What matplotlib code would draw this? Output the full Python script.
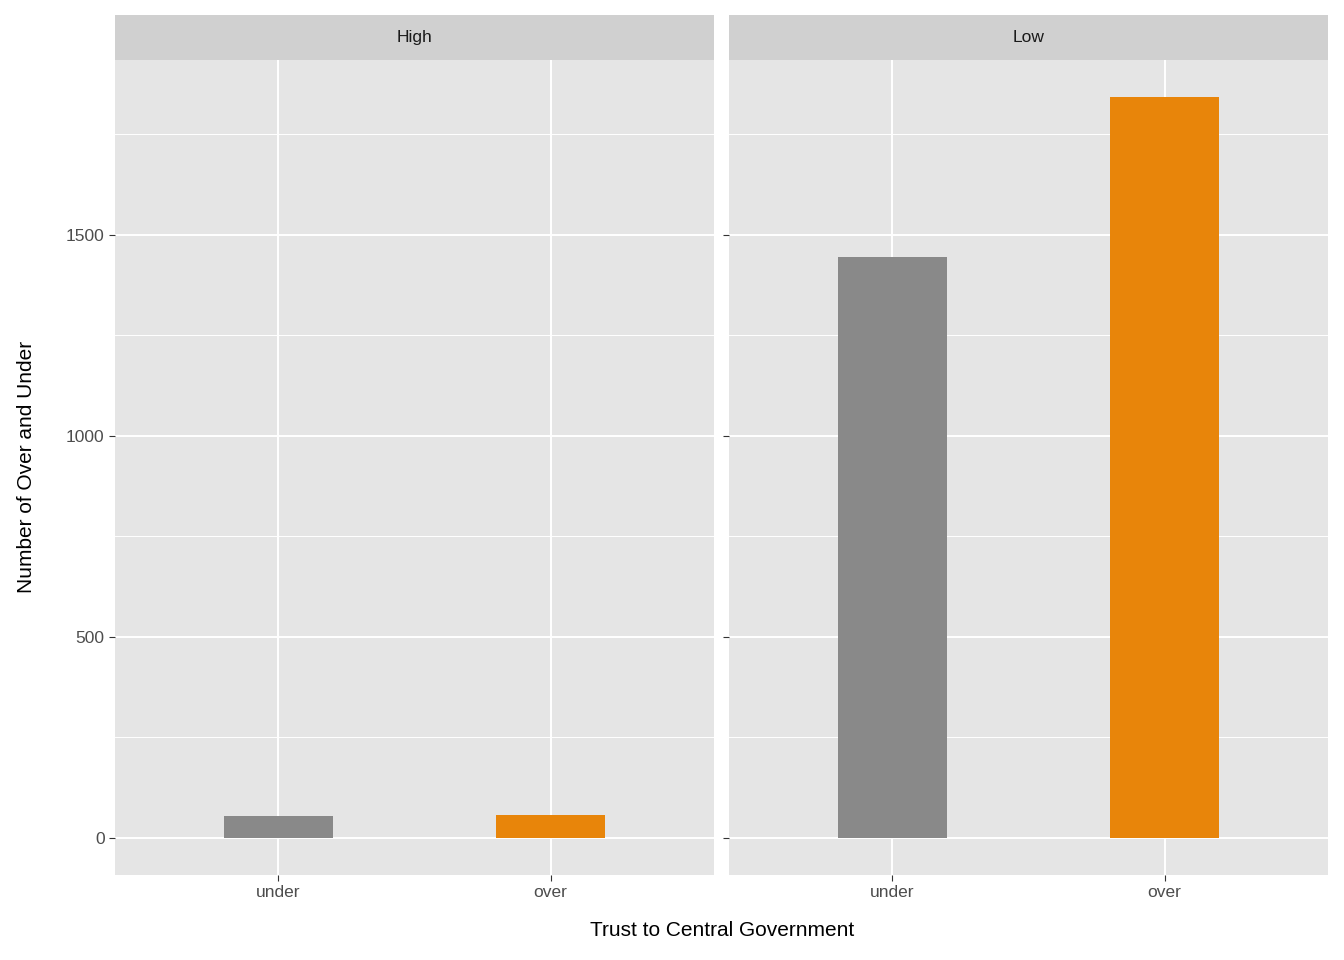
import matplotlib.pyplot as plt

# values
panels = ["High", "Low"]
categories = ["under", "over"]
counts = {"High": [55, 57], "Low": [1445, 1843]}
bar_colors = ["#898989", "#E8850A"]

W, H = 1344, 960
fig = plt.figure(figsize=(W / 100, H / 100), dpi=100)
plt.rcParams['font.family'] = ['Liberation Sans', 'DejaVu Sans']


def px(x0, y0, x1, y1):
    return [x0 / W, 1 - y1 / H, (x1 - x0) / W, (y1 - y0) / H]


lefts = [115, 729]
for i, (name, left) in enumerate(zip(panels, lefts)):
    ax = fig.add_axes(px(left, 60, left + 599, 875))
    ax.set_facecolor("#E5E5E5")
    xs = range(1, len(categories) + 1)
    ax.bar(xs, counts[name], width=0.4, color=bar_colors, zorder=3)
    ax.set_xlim(0.4, 2.6)
    ax.set_ylim(-92, 1935)
    ax.set_xticks(list(xs))
    ax.set_xticklabels(categories)
    ax.set_yticks([0, 500, 1000, 1500])
    ax.set_yticks([250, 750, 1250, 1750], minor=True)
    ax.grid(True, which="major", color="white", linewidth=1.4, zorder=0)
    ax.grid(True, which="minor", axis="y", color="white", linewidth=0.7, zorder=0)
    for s in ax.spines.values():
        s.set_visible(False)
    ax.tick_params(which="both", length=4, color="#333333", labelsize=12.5, labelcolor="#4D4D4D")
    ax.tick_params(which="minor", length=0)
    if i > 0:
        ax.tick_params(axis="y", labelleft=False)
    # facet strip
    sax = fig.add_axes(px(left, 15, left + 599, 60))
    sax.set_facecolor("#D0D0D0")
    sax.set_xticks([])
    sax.set_yticks([])
    for s in sax.spines.values():
        s.set_visible(False)
    sax.text(0.5, 0.5, name, ha="center", va="center", fontsize=12.5, color="#1A1A1A")

fig.text(722 / W, 1 - 930 / H, "Trust to Central Government", ha="center", va="center", fontsize=15)
fig.text(27 / W, 1 - 467 / H, "Number of Over and Under", ha="center", va="center",
         fontsize=15, rotation=90)

fig.savefig("out.png", dpi=100)
